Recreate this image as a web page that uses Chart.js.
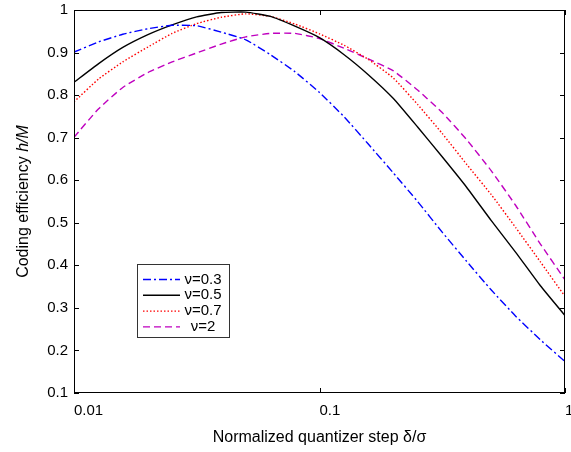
<!DOCTYPE html>
<html>
<head>
<meta charset="utf-8">
<script src="https://cdn.jsdelivr.net/npm/chart.js@4"></script>
<style>
  html, body { margin: 0; padding: 0; background: #fff; }
  #wrap { width: 571px; height: 452px; }
</style>
</head>
<body>
<div id="wrap"><canvas id="c" width="571" height="452"></canvas></div>
<script>
// normalized quantizer step (log axis)
const steps = [0.01, 0.0126, 0.0158, 0.02, 0.0251, 0.0316, 0.0398, 0.0501, 0.0631, 0.0794,
               0.1, 0.126, 0.158, 0.2, 0.251, 0.316, 0.398, 0.501, 0.631, 0.794, 1];
const nu03 = [0.901, 0.925, 0.943, 0.956, 0.964, 0.963, 0.948, 0.930, 0.895, 0.855,
              0.806, 0.749, 0.685, 0.617, 0.550, 0.478, 0.409, 0.342, 0.280, 0.225, 0.174];
const nu05 = [0.830, 0.874, 0.912, 0.942, 0.965, 0.984, 0.994, 0.995, 0.985, 0.962,
              0.935, 0.895, 0.848, 0.792, 0.725, 0.655, 0.583, 0.505, 0.430, 0.352, 0.282];
const nu07 = [0.784, 0.838, 0.878, 0.913, 0.945, 0.968, 0.983, 0.991, 0.985, 0.967,
              0.944, 0.917, 0.884, 0.840, 0.778, 0.710, 0.637, 0.566, 0.488, 0.408, 0.327];
const nu2  = [0.701, 0.768, 0.818, 0.853, 0.878, 0.899, 0.920, 0.937, 0.945, 0.945,
              0.933, 0.910, 0.885, 0.857, 0.812, 0.759, 0.695, 0.622, 0.540, 0.450, 0.366];

const xTicks = [0.01, 0.1, 1];
const yTicks = [0.1, 0.2, 0.3, 0.4, 0.5, 0.6, 0.7, 0.8, 0.9, 1];

const FONT = "'Liberation Sans', Arial, Helvetica, sans-serif";

function series(label, values, color, dash) {
    return {
        label: label,
        data: steps.map((s, i) => ({x: s, y: values[i]})),
        borderColor: color,
        borderWidth: 1.4,
        borderDash: dash,
        pointRadius: 0,
        tension: 0.15,
        fill: false
    };
}

// box, inward ticks, y title, x title and legend
const decor = {
    id: 'decor',
    afterDraw(chart) {
        const ctx = chart.ctx;
        const a = chart.chartArea;
        const xs = chart.scales.x, ys = chart.scales.y;
        ctx.save();
        ctx.strokeStyle = '#000';
        ctx.lineWidth = 1;
        ctx.strokeRect(a.left + 0.5, a.top + 0.5, a.right - a.left - 1, a.bottom - a.top - 1);
        ctx.beginPath();
        yTicks.forEach(v => {
            const p = Math.round(ys.getPixelForValue(v)) + 0.5;
            ctx.moveTo(a.left, p); ctx.lineTo(a.left + 5, p);
            ctx.moveTo(a.right, p); ctx.lineTo(a.right - 5, p);
        });
        xTicks.forEach(v => {
            const p = Math.round(xs.getPixelForValue(v)) + 0.5;
            ctx.moveTo(p, a.bottom); ctx.lineTo(p, a.bottom - 5);
            ctx.moveTo(p, a.top); ctx.lineTo(p, a.top + 5);
        });
        ctx.stroke();

        // y title with italic h/M
        ctx.fillStyle = '#000';
        ctx.translate(24, (a.top + a.bottom) / 2);
        ctx.rotate(-Math.PI / 2);
        ctx.textBaseline = 'middle';
        const t1 = 'Coding efficiency ';
        const t2 = 'h/M';
        ctx.font = '16px ' + FONT;
        const w1 = ctx.measureText(t1).width;
        ctx.font = 'italic 16px ' + FONT;
        const w2 = ctx.measureText(t2).width;
        let x0 = -(w1 + w2) / 2;
        ctx.font = '16px ' + FONT;
        ctx.textAlign = 'left';
        ctx.fillText(t1, x0, 0);
        ctx.font = 'italic 16px ' + FONT;
        ctx.fillText(t2, x0 + w1, 0);
        ctx.restore();

        // x title
        ctx.save();
        ctx.fillStyle = '#000';
        ctx.font = '16px ' + FONT;
        ctx.textAlign = 'center';
        ctx.textBaseline = 'middle';
        ctx.fillText('Normalized quantizer step \u03b4/\u03c3', (a.left + a.right) / 2, 438);
        ctx.restore();

        // legend
        ctx.save();
        const lx = a.left + 63, ly = a.top + 254, lw = 92, lh = 73;
        ctx.fillStyle = '#fff';
        ctx.fillRect(lx, ly, lw, lh);
        ctx.strokeStyle = '#333';
        ctx.lineWidth = 1;
        ctx.strokeRect(lx + 0.5, ly + 0.5, lw, lh);
        ctx.font = '15px ' + FONT;
        ctx.textAlign = 'center';
        ctx.textBaseline = 'middle';
        chart.data.datasets.forEach((d, i) => {
            const yy = ly + 15.5 + i * 15.8;
            ctx.strokeStyle = d.borderColor;
            ctx.lineWidth = d.borderWidth;
            ctx.setLineDash(d.borderDash || []);
            ctx.beginPath();
            ctx.moveTo(lx + 6, yy);
            ctx.lineTo(lx + 43, yy);
            ctx.stroke();
            ctx.setLineDash([]);
            ctx.fillStyle = '#000';
            ctx.fillText(d.label, lx + 66, yy);
        });
        ctx.restore();
    }
};

const chart = new Chart(document.getElementById('c').getContext('2d'), {
    type: 'line',
    data: {
        datasets: [
            series('\u03bd=0.3', nu03, '#0000ff', [8, 3, 2, 3]),
            series('\u03bd=0.5', nu05, '#000000', []),
            series('\u03bd=0.7', nu07, '#ff0000', [1.5, 2]),
            series('\u03bd=2', nu2, '#bf00bf', [7, 4])
        ]
    },
    options: {
        responsive: false,
        animation: false,
        layout: { padding: { top: 10, right: 6, left: 0, bottom: 0 } },
        plugins: {
            legend: { display: false },
            tooltip: { enabled: false }
        },
        scales: {
            x: {
                type: 'logarithmic',
                min: 0.01,
                max: 1,
                grid: { display: false, drawTicks: false },
                border: { display: false },
                afterBuildTicks: s => { s.ticks = xTicks.map(v => ({value: v})); },
                afterFit: s => { s.height = 59; s.paddingLeft = 0; s.paddingRight = 0; },
                ticks: {
                    color: '#000',
                    font: { family: FONT, size: 15 },
                    padding: 9,
                    align: 'start',
                    labelOffset: 0,
                    autoSkip: false,
                    maxRotation: 0,
                    callback: v => String(v)
                }
            },
            y: {
                min: 0.1,
                max: 1,
                grid: { display: false, drawTicks: false },
                border: { display: false },
                afterBuildTicks: s => { s.ticks = yTicks.map(v => ({value: v})); },
                afterFit: s => { s.width = 74; s.paddingTop = 0; s.paddingBottom = 0; },
                ticks: {
                    color: '#000',
                    font: { family: FONT, size: 15 },
                    padding: 6,
                    callback: v => String(Number(v.toFixed(1)))
                }
            }
        }
    },
    plugins: [decor]
});
</script>
</body>
</html>
